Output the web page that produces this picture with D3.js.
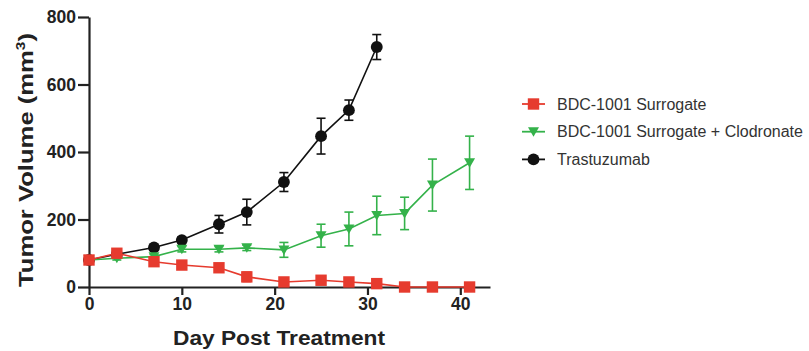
<!DOCTYPE html>
<html>
<head>
<meta charset="utf-8">
<script src="https://cdn.jsdelivr.net/npm/d3@7"></script>
<style>
  body { margin: 0; background: #fff; }
  svg text { font-family: "Liberation Sans", Arial, Helvetica, sans-serif; }
  .axis path, .axis line { stroke: #222; stroke-width: 2.2px; }
  .axis text { font-size: 17.5px; font-weight: bold; fill: #222; }
  .label { font-size: 20px; font-weight: bold; fill: #222; }
  .legend text { font-size: 16px; fill: #333; }
</style>
</head>
<body>
<div id="chart"></div>
<script>
// data
const seriesNames = ["BDC-1001 Surrogate", "BDC-1001 Surrogate + Clodronate", "Trastuzumab"];
const seriesColors = ["#e63b2e", "#34b24a", "#111111"];

const daysLong = [0, 3, 7, 10, 14, 17, 21, 25, 28, 31, 34, 37, 41];
const daysShort = [0, 3, 7, 10, 14, 17, 21, 25, 28, 31];

const surrogateMean = [80, 100, 75, 65, 57, 30, 15, 20, 15, 10, 0, 0, 0];
const surrogateErr = [4, 6, 5, 5, 5, 14, 5, 6, 5, 4, 2, 2, 2];

const clodronateMean = [80, 85, 90, 112, 112, 116, 110, 152, 172, 212, 218, 302, 368];
const clodronateErr = [4, 5, 6, 8, 8, 8, 22, 34, 50, 57, 48, 77, 79];

const trastuzumabMean = [80, 97, 117, 139, 186, 222, 311, 447, 524, 711];
const trastuzumabErr = [4, 5, 7, 9, 26, 38, 28, 53, 30, 37];

const xTicks = [0, 10, 20, 30, 40];
const yTicks = [0, 200, 400, 600, 800];

// margin convention
const svgWidth = 809,
    svgHeight = 351,
    margin = { top: 17, right: 319, bottom: 64, left: 89 },
    width = svgWidth - margin.left - margin.right,
    height = svgHeight - margin.top - margin.bottom;

let svg = d3.select("#chart").append("svg")
    .attr("width", svgWidth)
    .attr("height", svgHeight);
let g = svg.append("g")
    .attr("transform", `translate(${margin.left},${margin.top})`);

// scales
let xScale = d3.scaleLinear()
    .domain([0, 43.2])
    .range([0, width]);
let yScale = d3.scaleLinear()
    .domain([0, 800])
    .range([height, 0]);

// axes
g.append("g")
    .attr("class", "axis")
    .attr("transform", `translate(0,${height})`)
    .call(d3.axisBottom(xScale).tickValues(xTicks).tickSize(8).tickSizeOuter(0).tickPadding(3));
g.append("g")
    .attr("class", "axis")
    .call(d3.axisLeft(yScale).tickValues(yTicks).tickSize(11).tickSizeOuter(0).tickPadding(2));

// axis labels
svg.append("text")
    .attr("class", "label")
    .attr("x", 279)
    .attr("y", 345)
    .attr("text-anchor", "middle")
    .attr("textLength", 212)
    .attr("lengthAdjust", "spacingAndGlyphs")
    .text("Day Post Treatment");
let yl = svg.append("text")
    .attr("class", "label")
    .attr("transform", "translate(33, 160) rotate(-90)")
    .attr("text-anchor", "middle")
    .attr("textLength", 254)
    .attr("lengthAdjust", "spacingAndGlyphs");
yl.append("tspan").text("Tumor Volume (mm");
yl.append("tspan").attr("dy", -8).attr("font-size", 12).text("3");
yl.append("tspan").attr("dy", 8).text(")");

let series = [
    { name: seriesNames[0], days: daysLong, mean: surrogateMean, err: surrogateErr, color: seriesColors[0], shape: d3.symbolSquare, size: 130 },
    { name: seriesNames[1], days: daysLong, mean: clodronateMean, err: clodronateErr, color: seriesColors[1], shape: "tri", size: 70 },
    { name: seriesNames[2], days: daysShort, mean: trastuzumabMean, err: trastuzumabErr, color: seriesColors[2], shape: d3.symbolCircle, size: 110 }
];

function marker(sel, s) {
    if (s.shape === "tri") {
        // downward triangle
        sel.append("path")
            .attr("d", "M-5.5,-4.5L5.5,-4.5L0,5Z")
            .attr("fill", s.color);
    } else {
        sel.append("path")
            .attr("d", d3.symbol().type(s.shape).size(s.size)())
            .attr("fill", s.color);
    }
}

let line = d3.line()
    .x((d) => xScale(d.day))
    .y((d) => yScale(d.v));

// draw in reverse so red sits on top
[series[2], series[1], series[0]].forEach((s) => {
    let pts = s.days.map((d, i) => ({ day: d, v: s.mean[i], e: s.err[i] }));
    let sg = g.append("g");

    // error bars
    let eb = sg.selectAll(".err")
        .data(pts)
        .join("g")
        .attr("stroke", s.color)
        .attr("stroke-width", 1.6);
    eb.append("line")
        .attr("x1", (d) => xScale(d.day)).attr("x2", (d) => xScale(d.day))
        .attr("y1", (d) => yScale(d.v + d.e)).attr("y2", (d) => yScale(Math.max(0, d.v - d.e)));
    eb.append("line")
        .attr("x1", (d) => xScale(d.day) - 4.5).attr("x2", (d) => xScale(d.day) + 4.5)
        .attr("y1", (d) => yScale(d.v + d.e)).attr("y2", (d) => yScale(d.v + d.e));
    eb.append("line")
        .attr("x1", (d) => xScale(d.day) - 4.5).attr("x2", (d) => xScale(d.day) + 4.5)
        .attr("y1", (d) => yScale(Math.max(0, d.v - d.e))).attr("y2", (d) => yScale(Math.max(0, d.v - d.e)));

    sg.append("path")
        .datum(pts)
        .attr("fill", "none")
        .attr("stroke", s.color)
        .attr("stroke-width", 1.6)
        .attr("d", line);

    sg.selectAll(".pt")
        .data(pts)
        .join("g")
        .attr("transform", (d) => `translate(${xScale(d.day)},${yScale(d.v)})`)
        .each(function () { marker(d3.select(this), s); });
});

// legend
let legend = svg.append("g")
    .attr("class", "legend")
    .attr("transform", "translate(522, 104)");
series.forEach((s, i) => {
    let row = legend.append("g").attr("transform", `translate(0, ${i * 27.7})`);
    row.append("line")
        .attr("x1", 0).attr("x2", 23)
        .attr("stroke", s.color).attr("stroke-width", 1.8);
    let m = row.append("g").attr("transform", "translate(11.5,0)");
    marker(m, s);
    row.append("text")
        .attr("x", 35)
        .attr("dy", "0.35em")
        .text(s.name);
});
</script>
</body>
</html>
